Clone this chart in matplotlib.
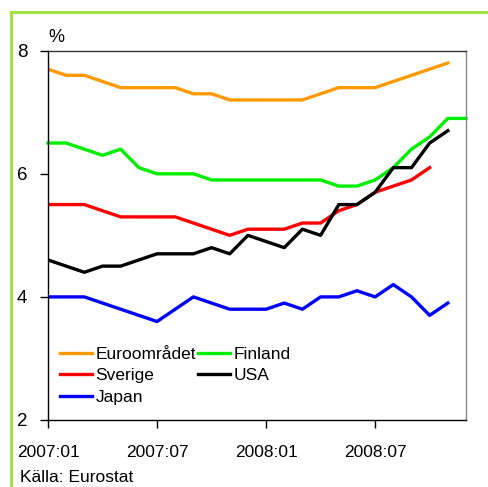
import matplotlib
matplotlib.use("Agg")
import matplotlib.pyplot as plt
from matplotlib.patches import Rectangle

months = ["2007:01","2007:02","2007:03","2007:04","2007:05","2007:06","2007:07","2007:08",
          "2007:09","2007:10","2007:11","2007:12","2008:01","2008:02","2008:03","2008:04",
          "2008:05","2008:06","2008:07","2008:08","2008:09","2008:10","2008:11","2008:12"]
euro = [7.7,7.6,7.6,7.5,7.4,7.4,7.4,7.4,7.3,7.3,7.2,7.2,7.2,7.2,7.2,7.3,7.4,7.4,7.4,7.5,7.6,7.7,7.8]
finland = [6.5,6.5,6.4,6.3,6.4,6.1,6.0,6.0,6.0,5.9,5.9,5.9,5.9,5.9,5.9,5.9,5.8,5.8,5.9,6.1,6.4,6.6,6.9,6.9]
sverige = [5.5,5.5,5.5,5.4,5.3,5.3,5.3,5.3,5.2,5.1,5.0,5.1,5.1,5.1,5.2,5.2,5.4,5.5,5.7,5.8,5.9,6.1]
usa = [4.6,4.5,4.4,4.5,4.5,4.6,4.7,4.7,4.7,4.8,4.7,5.0,4.9,4.8,5.1,5.0,5.5,5.5,5.7,6.1,6.1,6.5,6.7]
japan = [4.0,4.0,4.0,3.9,3.8,3.7,3.6,3.8,4.0,3.9,3.8,3.8,3.8,3.9,3.8,4.0,4.0,4.1,4.0,4.2,4.0,3.7,3.9]
xtick_labels = ["2007:01","2007:07","2008:01","2008:07"]
yticks = [2,4,6,8]

FONT = ["Liberation Sans", "DejaVu Sans"]
plt.rcParams['font.family'] = FONT

fig = plt.figure(figsize=(4.88, 4.87), dpi=100)
W, H = 488, 487
ax = fig.add_axes([48/W, 1-420/H, (466-48)/W, (420-50.7)/H])

# green frame
fig.patches.append(Rectangle((11/W, -0.1), 1.2, 1 - 12/H + 0.1, transform=fig.transFigure,
                             fill=False, edgecolor='#a2e23e', linewidth=2.2))

lw = 2.4
idx = lambda s: list(range(len(s)))
l1, = ax.plot(idx(euro), euro, color='#ff9900', lw=lw, label='Euroområdet')
l2, = ax.plot(idx(finland), finland, color='#00ee00', lw=lw, label='Finland', clip_on=False)
l3, = ax.plot(idx(sverige), sverige, color='#ff0000', lw=lw, label='Sverige')
l4, = ax.plot(idx(usa), usa, color='#000000', lw=lw, label='USA')
l5, = ax.plot(idx(japan), japan, color='#0000ff', lw=lw, label='Japan')

ax.set_xlim(0, 23)
ax.set_ylim(2, 8)
ax.set_yticks(yticks)
ax.set_yticklabels([str(v) for v in yticks])
ax.set_xticks([months.index(m) for m in xtick_labels])
ax.set_xticklabels(xtick_labels)
ax.tick_params(axis='both', direction='out', length=6, width=1, colors='black')
ax.tick_params(axis='y', pad=9, labelsize=13.5)
ax.tick_params(axis='x', pad=12, labelsize=12.5)
ax.spines['left'].set_color('black')
ax.spines['bottom'].set_color('black')
ax.spines['top'].set_color('#333333')
ax.spines['right'].set_color('#888888')
for s in ax.spines.values():
    s.set_linewidth(1)

leg = ax.legend(handles=[l1, l3, l5, l2, l4], ncol=2, loc='upper left',
                bbox_to_anchor=(0.0287, 0.198), frameon=False, fontsize=12.5,
                handlelength=1.85, handletextpad=0.2, columnspacing=0.1,
                labelspacing=0.36, borderaxespad=0, borderpad=0)

fig.text(48/W, 1-38/H, '%', fontsize=13, ha='left', va='center')
fig.text(20/W, 1-478/H, 'Källa: Eurostat', fontsize=12.5, ha='left', va='center')

fig.savefig('out.png', dpi=100)
